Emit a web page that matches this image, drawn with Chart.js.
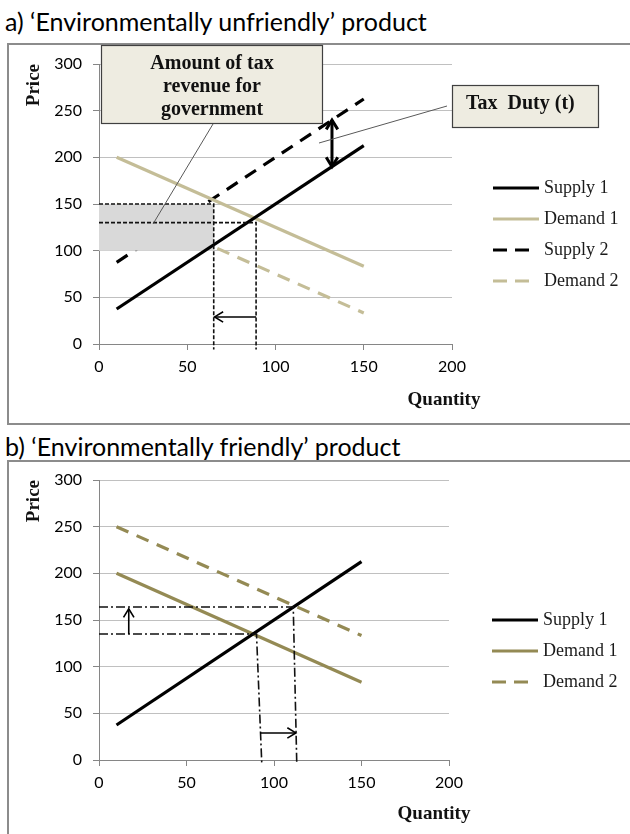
<!DOCTYPE html>
<html>
<head>
<meta charset="utf-8">
<script src="https://cdn.jsdelivr.net/npm/chart.js@4.4.1/dist/chart.umd.min.js"></script>
<style>
body { margin: 0; width: 630px; height: 834px; overflow: hidden; background: #fff; position: relative; }
.ttl { position: absolute; left: 5px; font: 25px Lato; color: #000; white-space: nowrap; }
.frame { position: absolute; left: 7px; width: 640px; border: 2px solid #8c8c8c; }
canvas { position: absolute; left: 0; }
</style>
</head>
<body>
<div class="ttl" style="top:6px">a) ‘Environmentally unfriendly’ product</div>
<div class="frame" style="top:43px;height:378px"></div>
<div class="ttl" style="top:431px">b) ‘Environmentally friendly’ product</div>
<div class="frame" style="top:460px;height:400px"></div>
<canvas id="chartA" width="630" height="430" style="top:0"></canvas>
<canvas id="chartB" width="630" height="414" style="top:420px"></canvas>
<script>
// Curves: quantity at both ends of each line
var quantities = [10, 150];
var supply1 = [37.5, 212.5];
var supply2 = [87.5, 262.5];
var demand1 = [200, 83.3];
var demand2a = [150, 33.3];
var demand2b = [250, 133.3];

// Guide lines in chart a (quantity, price)
var guideA1Q = [0, 65, 65], guideA1P = [150, 150, -6];
var guideA2Q = [0, 89, 89], guideA2P = [130, 130, -6];
// shaded tax revenue band
var bandQ = [0, 65], bandTop = [150, 150], bandBottom = 100;

// Guide lines in chart b
var guideB1Q = [0, 111, 113], guideB1P = [164, 164, -3];
var guideB2Q = [0, 90, 93], guideB2P = [135, 135, -3];

// arrows: [q1, p1, q2, p2] head at the second point
var arrowsA = [[89, 29, 65.5, 29]];
var taxArrow = [132, 190, 132, 240];
var arrowsB = [[17, 135, 17, 162], [92, 29, 112.5, 29]];

var BLACK = '#000000';
var TAN = '#c4bd97';
var OLIVE = '#948a54';

function pts(xs, ys) {
    return xs.map(function (x, i) { return { x: x, y: ys[i] }; });
}

function curve(label, ys, color, dash, order) {
    return {
        label: label, inLegend: true,
        data: pts(quantities, ys),
        borderColor: color, borderWidth: 3.2, borderDash: dash,
        pointRadius: 0, order: order, fill: false
    };
}

function guide(xs, ys, dash) {
    return {
        data: pts(xs, ys),
        borderColor: '#111', borderWidth: 1.6, borderDash: dash,
        pointRadius: 0, order: -1, clip: false, fill: false
    };
}

function arrowHead(ctx, x1, y1, x2, y2, size) {
    var a = Math.atan2(y2 - y1, x2 - x1);
    ctx.beginPath();
    ctx.moveTo(x2 - size * Math.cos(a - 0.55), y2 - size * Math.sin(a - 0.55));
    ctx.lineTo(x2, y2);
    ctx.lineTo(x2 - size * Math.cos(a + 0.55), y2 - size * Math.sin(a + 0.55));
    ctx.stroke();
}

// arrows, callout boxes, axis title and legend
var extras = {
    id: 'extras',
    afterDraw: function (chart, args, o) {
        var ctx = chart.ctx, xs = chart.scales.x, ys = chart.scales.y;
        ctx.save();
        ctx.strokeStyle = '#000';
        ctx.lineCap = 'butt';

        (o.arrows || []).forEach(function (a) {
            var x1 = xs.getPixelForValue(a[0]), y1 = ys.getPixelForValue(a[1]);
            var x2 = xs.getPixelForValue(a[2]), y2 = ys.getPixelForValue(a[3]);
            ctx.lineWidth = 1.6;
            ctx.beginPath(); ctx.moveTo(x1, y1); ctx.lineTo(x2, y2); ctx.stroke();
            arrowHead(ctx, x1, y1, x2, y2, 10);
        });
        if (o.double) {
            var a = o.double;
            var x1 = xs.getPixelForValue(a[0]), y1 = ys.getPixelForValue(a[1]);
            var x2 = xs.getPixelForValue(a[2]), y2 = ys.getPixelForValue(a[3]);
            ctx.lineWidth = 3;
            ctx.beginPath(); ctx.moveTo(x1, y1); ctx.lineTo(x2, y2); ctx.stroke();
            arrowHead(ctx, x1, y1, x2, y2, 11);
            arrowHead(ctx, x2, y2, x1, y1, 11);
        }

        (o.boxes || []).forEach(function (b) {
            ctx.lineWidth = 1;
            ctx.strokeStyle = '#595959';
            ctx.beginPath(); ctx.moveTo(b.line[0], b.line[1]); ctx.lineTo(b.line[2], b.line[3]); ctx.stroke();
            ctx.fillStyle = '#eeece1';
            ctx.fillRect(b.x, b.y, b.w, b.h);
            ctx.strokeStyle = '#404040';
            ctx.lineWidth = 1.2;
            ctx.strokeRect(b.x + 0.5, b.y + 0.5, b.w - 1, b.h - 1);
            ctx.fillStyle = '#111';
            ctx.font = 'bold 20px "Liberation Serif"';
            ctx.textBaseline = 'middle';
            ctx.textAlign = b.align;
            b.text.forEach(function (t, i) {
                ctx.fillText(t, b.tx, b.ty + i * 23);
            });
        });

        ctx.font = 'bold 19px "Liberation Serif"';
        ctx.fillStyle = '#111';
        ctx.textAlign = 'center';
        ctx.textBaseline = 'middle';
        ctx.fillText('Quantity', o.qx, o.qy);

        ctx.font = '18px "Liberation Serif"';
        ctx.textAlign = 'left';
        chart.data.datasets.filter(function (d) { return d.inLegend; }).forEach(function (d, i) {
            var y = o.legTop + i * o.legGap;
            ctx.strokeStyle = d.borderColor;
            ctx.lineWidth = 3.2;
            ctx.setLineDash(d.borderDash && d.borderDash.length ? [14, 8] : []);
            ctx.beginPath(); ctx.moveTo(o.legX, y); ctx.lineTo(o.legX + (d.borderDash && d.borderDash.length ? 36 : 46), y); ctx.stroke();
            ctx.setLineDash([]);
            ctx.fillStyle = '#1a1a1a';
            ctx.fillText(d.label, o.legX + 51, y);
        });
        ctx.restore();
    }
};

function makeOptions(pad, extra) {
    return {
        responsive: false,
        animation: false,
        layout: { padding: pad },
        plugins: { legend: { display: false }, tooltip: { enabled: false }, extras: extra },
        scales: {
            x: {
                type: 'linear', min: 0, max: 200,
                ticks: { stepSize: 50, padding: 7, color: '#000', font: { family: 'Lato', size: 16 } },
                grid: { drawOnChartArea: false, tickLength: 6, tickColor: '#868686' },
                border: { color: '#868686' },
                afterFit: function (s) { s.height = 40; }
            },
            y: {
                min: 0, max: 300,
                ticks: { stepSize: 50, padding: 11, color: '#000', font: { family: 'Lato', size: 16 } },
                grid: { color: '#c0c0c0', tickLength: 6, tickColor: '#868686' },
                border: { color: '#868686' },
                title: {
                    display: true, text: 'Price', align: 'end', color: '#111',
                    padding: { top: 23 }, font: { family: 'Liberation Serif', size: 19, weight: 'bold' }
                },
                afterFit: function (s) { s.width = 99; }
            }
        }
    };
}

var supplyDash = [13, 9];

new Chart(document.getElementById('chartA'), {
    type: 'line',
    data: {
        datasets: [
            curve('Supply 1', supply1, BLACK, [], 0),
            curve('Demand 1', demand1, TAN, [], 1),
            curve('Supply 2', supply2, BLACK, supplyDash, 3),
            curve('Demand 2', demand2a, TAN, supplyDash, 4),
            {
                data: pts(bandQ, bandTop), borderWidth: 0, pointRadius: 0,
                backgroundColor: '#d9d9d9', fill: { value: bandBottom }, order: 2
            },
            guide(guideA1Q, guideA1P, [4, 2]),
            guide(guideA2Q, guideA2P, [4, 2])
        ]
    },
    options: makeOptions({ left: 0, right: 178, top: 64, bottom: 46 }, {
        arrows: arrowsA,
        double: taxArrow,
        boxes: [
            { x: 101, y: 45, w: 222, h: 79, line: [213, 124, 153, 224], align: 'center', tx: 212, ty: 64,
              text: ['Amount of tax', 'revenue for', 'government'] },
            { x: 452, y: 85, w: 147, h: 43, line: [447, 106, 319, 143], align: 'left', tx: 466, ty: 104,
              text: ['Tax  Duty (t)'] }
        ],
        qx: 444, qy: 400,
        legX: 493, legTop: 188, legGap: 31
    }),
    plugins: [extras]
});

new Chart(document.getElementById('chartB'), {
    type: 'line',
    data: {
        datasets: [
            curve('Supply 1', supply1, BLACK, [], 0),
            curve('Demand 1', demand1, OLIVE, [], 1),
            curve('Demand 2', demand2b, OLIVE, supplyDash, 2),
            guide(guideB1Q, guideB1P, [9, 3, 2, 3]),
            guide(guideB2Q, guideB2P, [9, 3, 2, 3])
        ]
    },
    options: makeOptions({ left: 0, right: 181, top: 60, bottom: 34 }, {
        arrows: arrowsB,
        qx: 434, qy: 394,
        legX: 492, legTop: 200, legGap: 31
    }),
    plugins: [extras]
});
</script>
</body>
</html>
